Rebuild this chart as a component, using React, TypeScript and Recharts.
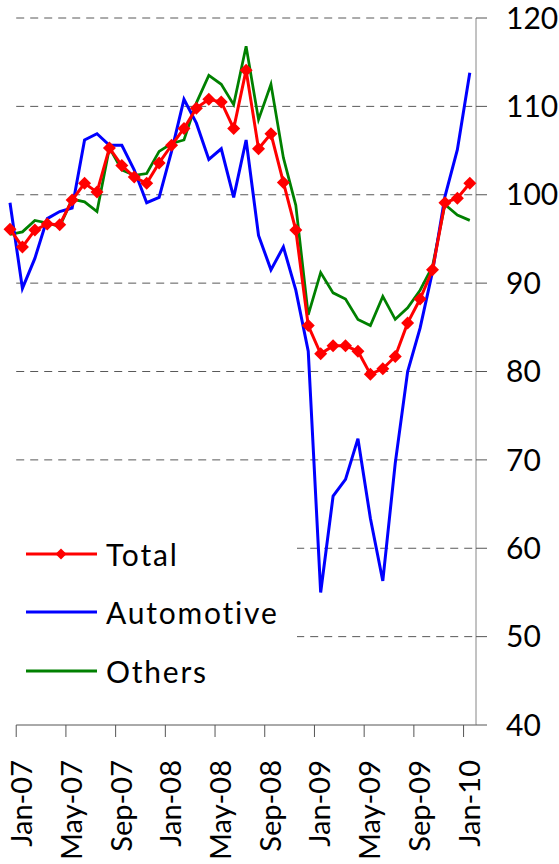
import { LineChart, Line, XAxis, YAxis, ReferenceLine, Legend } from "recharts";

// months on the x axis (first point is Dec-06)
const months = [
  "Dec-06", "Jan-07", "Feb-07", "Mar-07", "Apr-07", "May-07", "Jun-07", "Jul-07", "Aug-07", "Sep-07",
  "Oct-07", "Nov-07", "Dec-07", "Jan-08", "Feb-08", "Mar-08", "Apr-08", "May-08", "Jun-08", "Jul-08",
  "Aug-08", "Sep-08", "Oct-08", "Nov-08", "Dec-08", "Jan-09", "Feb-09", "Mar-09", "Apr-09", "May-09",
  "Jun-09", "Jul-09", "Aug-09", "Sep-09", "Oct-09", "Nov-09", "Dec-09", "Jan-10",
];

const tickLabels = ["Jan-07", "May-07", "Sep-07", "Jan-08", "May-08", "Sep-08", "Jan-09", "May-09", "Sep-09", "Jan-10"];

const total = [
  96.1, 94.1, 96.0, 96.7, 96.6, 99.4, 101.3, 100.3, 105.3, 103.3, 102.0, 101.3, 103.6, 105.6, 107.5,
  109.8, 110.8, 110.5, 107.5, 114.1, 105.2, 106.9, 101.4, 96.0, 85.2, 82.0, 82.9, 82.9, 82.3, 79.7,
  80.3, 81.7, 85.5, 88.2, 91.5, 99.1, 99.6, 101.3,
];

const automotive = [
  99.1, 89.4, 92.8, 97.3, 98.1, 98.5, 106.2, 106.9, 105.6, 105.6, 102.8, 99.1, 99.7, 104.9, 110.8,
  108.1, 104.0, 105.2, 99.7, 106.2, 95.4, 91.5, 94.1, 89.2, 82.3, 55.0, 65.9, 67.8, 72.4, 63.4,
  56.3, 69.6, 80.0, 84.9, 91.3, 99.8, 105.1, 113.8,
];

const others = [
  95.5, 95.8, 97.1, 96.8, 96.4, 99.5, 99.2, 98.1, 105.3, 102.8, 102.2, 102.4, 104.9, 105.8, 106.2,
  110.4, 113.5, 112.5, 110.2, 116.8, 108.5, 112.5, 104.2, 98.8, 86.4, 91.2, 88.9, 88.2, 85.9, 85.2,
  88.5, 85.9, 87.2, 89.2, 91.9, 98.9, 97.7, 97.1,
];

const yTicks = [40, 50, 60, 70, 80, 90, 100, 110, 120];

const FONT = "Lato, 'Open Sans', sans-serif";
const RED = "#ff0000";
const BLUE = "#0000ff";
const GREEN = "#008000";

const data = months.map((m, i) => ({
  i,
  month: m,
  total: total[i],
  automotive: automotive[i],
  others: others[i],
}));

// tick marks sit on the boundary before each labelled month
const xTicks = tickLabels.map((l) => months.indexOf(l) - 0.5);
const xMin = 0;
const xMax = months.length - 0.5;

function Diamond({ cx, cy, r = 6.5, fill = RED }: any) {
  if (cx == null || cy == null) return null;
  return (
    <polygon
      points={`${cx},${cy - r} ${cx + r},${cy} ${cx},${cy + r} ${cx - r},${cy}`}
      fill={fill}
    />
  );
}

function XTick({ x, payload }: any) {
  const label = months[Math.round(payload.value + 0.5)];
  return (
    <text
      transform={`translate(${x + 16},760) rotate(-90)`}
      textAnchor="end"
      fontFamily={FONT}
      fontSize={29}
      fill="#000"
    >
      {label}
    </text>
  );
}

const legendItems = [
  { name: "Total", color: RED, marker: true },
  { name: "Automotive", color: BLUE, marker: false },
  { name: "Others", color: GREEN, marker: false },
];

function LegendBox() {
  return (
    <div style={{ width: 282, height: 172, background: "#fff", position: "relative" }}>
      {legendItems.map((it, k) => {
        const cy = [26, 84, 143][k];
        return (
          <div key={it.name}>
            <svg
              width={90}
              height={20}
              style={{ position: "absolute", left: 8, top: cy - 10 }}
            >
              <line x1={3} y1={10} x2={74} y2={10} stroke={it.color} strokeWidth={3} />
              {it.marker && <Diamond cx={38} cy={10} r={5.5} />}
            </svg>
            <span
              style={{
                position: "absolute",
                left: 91,
                top: cy - 20,
                lineHeight: "40px",
                fontFamily: FONT,
                fontSize: 30,
                letterSpacing: 1.8,
                color: "#000",
                whiteSpace: "nowrap",
              }}
            >
              {it.name}
            </span>
          </div>
        );
      })}
    </div>
  );
}

export default function App() {
  return (
    <div style={{ position: "absolute", left: 0, top: 0, background: "#fff" }}>
      <LineChart
        width={559}
        height={864}
        data={data}
        margin={{ top: 18, right: 0, bottom: 0, left: 10 }}
      >
        {yTicks.slice(1).map((v) => (
          <ReferenceLine
            key={v}
            segment={[
              { x: xTicks[0], y: v },
              { x: xMax, y: v },
            ]}
            stroke="#595959"
            strokeDasharray="8 6"
            strokeWidth={1}
          />
        ))}
        <ReferenceLine
          segment={[
            { x: xTicks[0], y: 40 },
            { x: xMax, y: 40 },
          ]}
          stroke="#555"
          strokeWidth={1}
        />
        <XAxis
          type="number"
          dataKey="i"
          domain={[xMin, xMax]}
          ticks={xTicks}
          interval={0}
          axisLine={false}
          tickLine={{ stroke: "#555" }}
          tickSize={12}
          height={139}
          tick={<XTick />}
        />
        <YAxis
          orientation="right"
          type="number"
          domain={[40, 120]}
          ticks={yTicks}
          interval={0}
          width={83}
          axisLine={{ stroke: "#868686" }}
          tickLine={{ stroke: "#555" }}
          tickSize={11}
          tickMargin={19}
          tick={{ fontSize: 30, fill: "#000", fontFamily: FONT, textAnchor: "start" }}
        />
        <Legend
          layout="vertical"
          align="center"
          verticalAlign="middle"
          wrapperStyle={{ left: 15, top: 528, width: 282, height: 172 }}
          content={() => <LegendBox />}
        />
        <Line
          dataKey="others"
          stroke={GREEN}
          strokeWidth={2.75}
          dot={false}
          isAnimationActive={false}
        />
        <Line
          dataKey="automotive"
          stroke={BLUE}
          strokeWidth={3}
          dot={false}
          isAnimationActive={false}
        />
        <Line
          dataKey="total"
          stroke={RED}
          strokeWidth={3}
          dot={(p: any) => <Diamond key={`d-${p.index}`} cx={p.cx} cy={p.cy} />}
          isAnimationActive={false}
        />
      </LineChart>
    </div>
  );
}
